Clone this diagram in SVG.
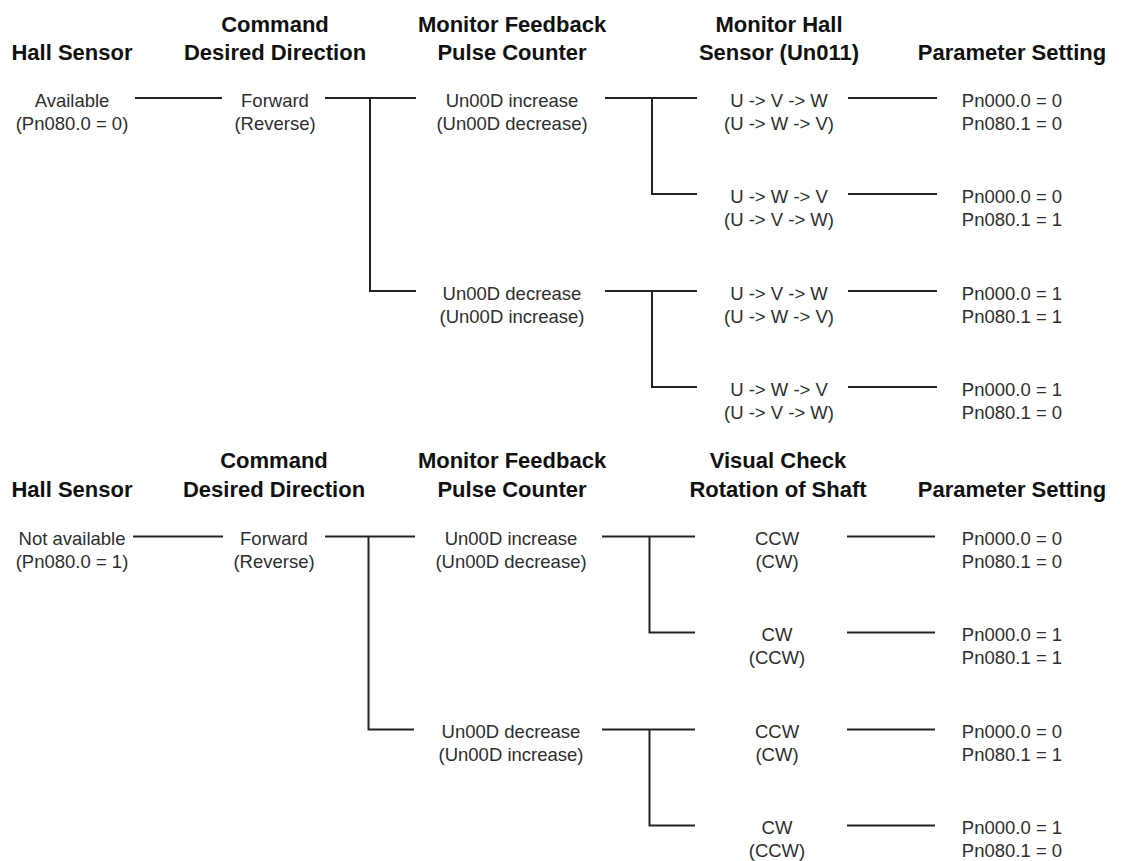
<svg xmlns="http://www.w3.org/2000/svg" width="1121" height="861" viewBox="0 0 1121 861">
<style>
.h{font-family:"Liberation Sans",Arial,sans-serif;font-size:22px;font-weight:bold;fill:#111;text-anchor:middle}
.t{font-family:"Liberation Sans",Arial,sans-serif;font-size:18.5px;fill:#2e2e2e;text-anchor:middle}
.c{fill:none;stroke:#222;stroke-width:2}
</style>
<rect width="1121" height="861" fill="#fff"/>
<g id="headers-top">
<text class="h" x="72" y="60">Hall Sensor</text>
<text class="h" x="275" y="31.5">Command</text>
<text class="h" x="275" y="60">Desired Direction</text>
<text class="h" x="512" y="31.5">Monitor Feedback</text>
<text class="h" x="512" y="60">Pulse Counter</text>
<text class="h" x="779" y="31.5">Monitor Hall</text>
<text class="h" x="779" y="60">Sensor (Un011)</text>
<text class="h" x="1012" y="60">Parameter Setting</text>
</g>
<g id="headers-bottom">
<text class="h" x="72" y="497">Hall Sensor</text>
<text class="h" x="274" y="468">Command</text>
<text class="h" x="274" y="497">Desired Direction</text>
<text class="h" x="512" y="468">Monitor Feedback</text>
<text class="h" x="512" y="497">Pulse Counter</text>
<text class="h" x="778" y="468">Visual Check</text>
<text class="h" x="778" y="497">Rotation of Shaft</text>
<text class="h" x="1012" y="497">Parameter Setting</text>
</g>
<g id="connectors">
<path class="c" d="M135 98H222M325 98H416M370 98V291H416M605 98H697M652 98V194H697M605 291H697M652 291V387H697M848 98H937M848 194H937M848 291H937M848 387H937"/>
<path class="c" d="M133 536.5H223M325 536.5H415M368.5 536.5V729.5H414M602 536.5H695M649.5 536.5V632.5H695M602 729.5H695M649.5 729.5V825.5H695M847 536.5H935M847 632.5H935M847 729.5H935M847 825.5H935"/>
</g>
<g id="t-hall"><text class="t" x="72" y="106.5">Available</text><text class="t" x="72" y="129.5">(Pn080.0 = 0)</text></g>
<g id="t-dir"><text class="t" x="275" y="106.5">Forward</text><text class="t" x="275" y="129.5">(Reverse)</text></g>
<g id="t-inc"><text class="t" x="512" y="106.5">Un00D increase</text><text class="t" x="512" y="129.5">(Un00D decrease)</text></g>
<g id="t-dec"><text class="t" x="512" y="299.5">Un00D decrease</text><text class="t" x="512" y="322.5">(Un00D increase)</text></g>
<g id="t-h1"><text class="t" x="779" y="106.5">U -&gt; V -&gt; W</text><text class="t" x="779" y="129.5">(U -&gt; W -&gt; V)</text></g>
<g id="t-h2"><text class="t" x="779" y="202.5">U -&gt; W -&gt; V</text><text class="t" x="779" y="225.5">(U -&gt; V -&gt; W)</text></g>
<g id="t-h3"><text class="t" x="779" y="299.5">U -&gt; V -&gt; W</text><text class="t" x="779" y="322.5">(U -&gt; W -&gt; V)</text></g>
<g id="t-h4"><text class="t" x="779" y="395.5">U -&gt; W -&gt; V</text><text class="t" x="779" y="418.5">(U -&gt; V -&gt; W)</text></g>
<g id="t-p1"><text class="t" x="1012" y="106.5">Pn000.0 = 0</text><text class="t" x="1012" y="129.5">Pn080.1 = 0</text></g>
<g id="t-p2"><text class="t" x="1012" y="202.5">Pn000.0 = 0</text><text class="t" x="1012" y="225.5">Pn080.1 = 1</text></g>
<g id="t-p3"><text class="t" x="1012" y="299.5">Pn000.0 = 1</text><text class="t" x="1012" y="322.5">Pn080.1 = 1</text></g>
<g id="t-p4"><text class="t" x="1012" y="395.5">Pn000.0 = 1</text><text class="t" x="1012" y="418.5">Pn080.1 = 0</text></g>
<g id="b-hall"><text class="t" x="72" y="545">Not available</text><text class="t" x="72" y="568">(Pn080.0 = 1)</text></g>
<g id="b-dir"><text class="t" x="274" y="545">Forward</text><text class="t" x="274" y="568">(Reverse)</text></g>
<g id="b-inc"><text class="t" x="511" y="545">Un00D increase</text><text class="t" x="511" y="568">(Un00D decrease)</text></g>
<g id="b-dec"><text class="t" x="511" y="738">Un00D decrease</text><text class="t" x="511" y="761">(Un00D increase)</text></g>
<g id="b-r1"><text class="t" x="777" y="545">CCW</text><text class="t" x="777" y="568">(CW)</text></g>
<g id="b-r2"><text class="t" x="777" y="641">CW</text><text class="t" x="777" y="664">(CCW)</text></g>
<g id="b-r3"><text class="t" x="777" y="738">CCW</text><text class="t" x="777" y="761">(CW)</text></g>
<g id="b-r4"><text class="t" x="777" y="834">CW</text><text class="t" x="777" y="857">(CCW)</text></g>
<g id="b-p1"><text class="t" x="1012" y="545">Pn000.0 = 0</text><text class="t" x="1012" y="568">Pn080.1 = 0</text></g>
<g id="b-p2"><text class="t" x="1012" y="641">Pn000.0 = 1</text><text class="t" x="1012" y="664">Pn080.1 = 1</text></g>
<g id="b-p3"><text class="t" x="1012" y="738">Pn000.0 = 0</text><text class="t" x="1012" y="761">Pn080.1 = 1</text></g>
<g id="b-p4"><text class="t" x="1012" y="834">Pn000.0 = 1</text><text class="t" x="1012" y="857">Pn080.1 = 0</text></g>
</svg>
